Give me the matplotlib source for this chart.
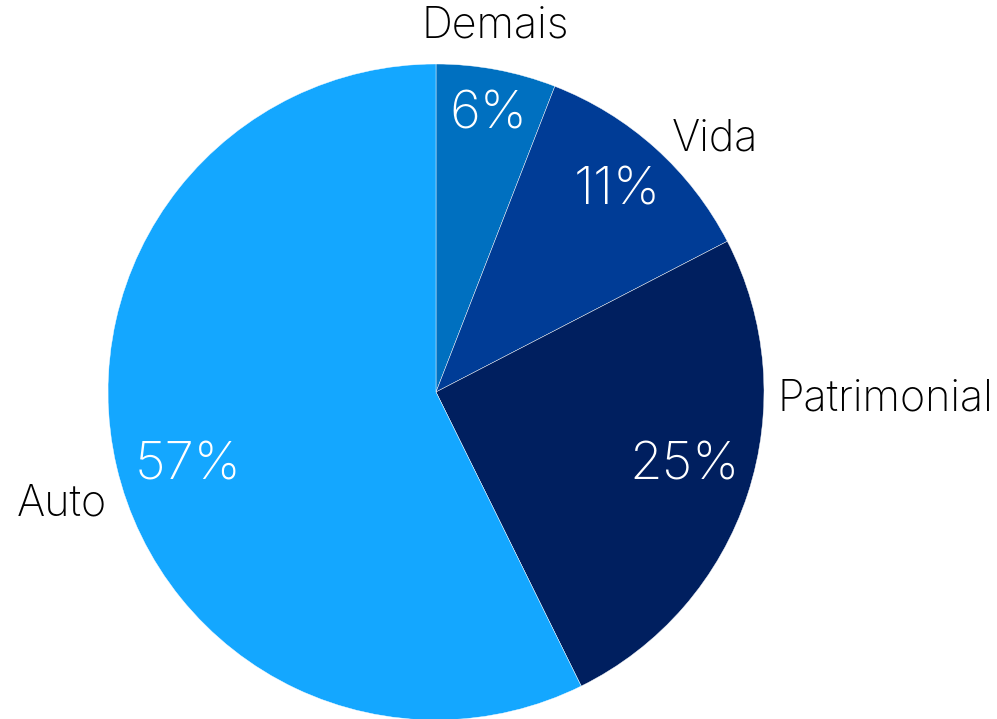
import matplotlib
matplotlib.use('Agg')
import matplotlib.pyplot as plt

# shares (clockwise from 12 o'clock)
categories = ['Demais', 'Vida', 'Patrimonial', 'Auto']
shares = [5.9, 11.5, 25.3, 57.3]
pct_labels = ['6%', '11%', '25%', '57%']
colors = ['#0070c0', '#003c96', '#001f5f', '#14a7ff']

# text centres in units of the pie radius
label_pos = [(0.18, 1.115), (0.85, 0.77), (1.37, -0.02), (-1.14, -0.34)]
pct_pos = [(0.159, 0.845), (0.552, 0.613), (0.759, -0.226), (-0.756, -0.226)]

plt.rcParams['font.family'] = ['Inter', 'DejaVu Sans']

W, H = 997, 719
cx, cy, r = 436, 392, 328
fig = plt.figure(figsize=(W / 100, H / 100), dpi=100)
ax = fig.add_axes([(cx - r) / W, (H - cy - r) / H, 2 * r / W, 2 * r / H])
ax.axis('off')

wedges, texts = ax.pie(shares, colors=colors, startangle=90, counterclock=False,
                       radius=1, labels=pct_labels, labeldistance=0.81,
                       wedgeprops=dict(edgecolor='white', linewidth=0.3),
                       textprops=dict(color='white', fontsize=38, fontweight='light'))
for t, (x, y) in zip(texts, pct_pos):
    t.set_position((x, y))
    t.set_ha('center')
    t.set_va('center')

for name, (x, y) in zip(categories, label_pos):
    ax.text(x, y, name, ha='center', va='center', fontsize=31,
            fontweight='light', color='black', clip_on=False)

ax.set_xlim(-1, 1)
ax.set_ylim(-1, 1)
fig.savefig('out.png', dpi=100)
